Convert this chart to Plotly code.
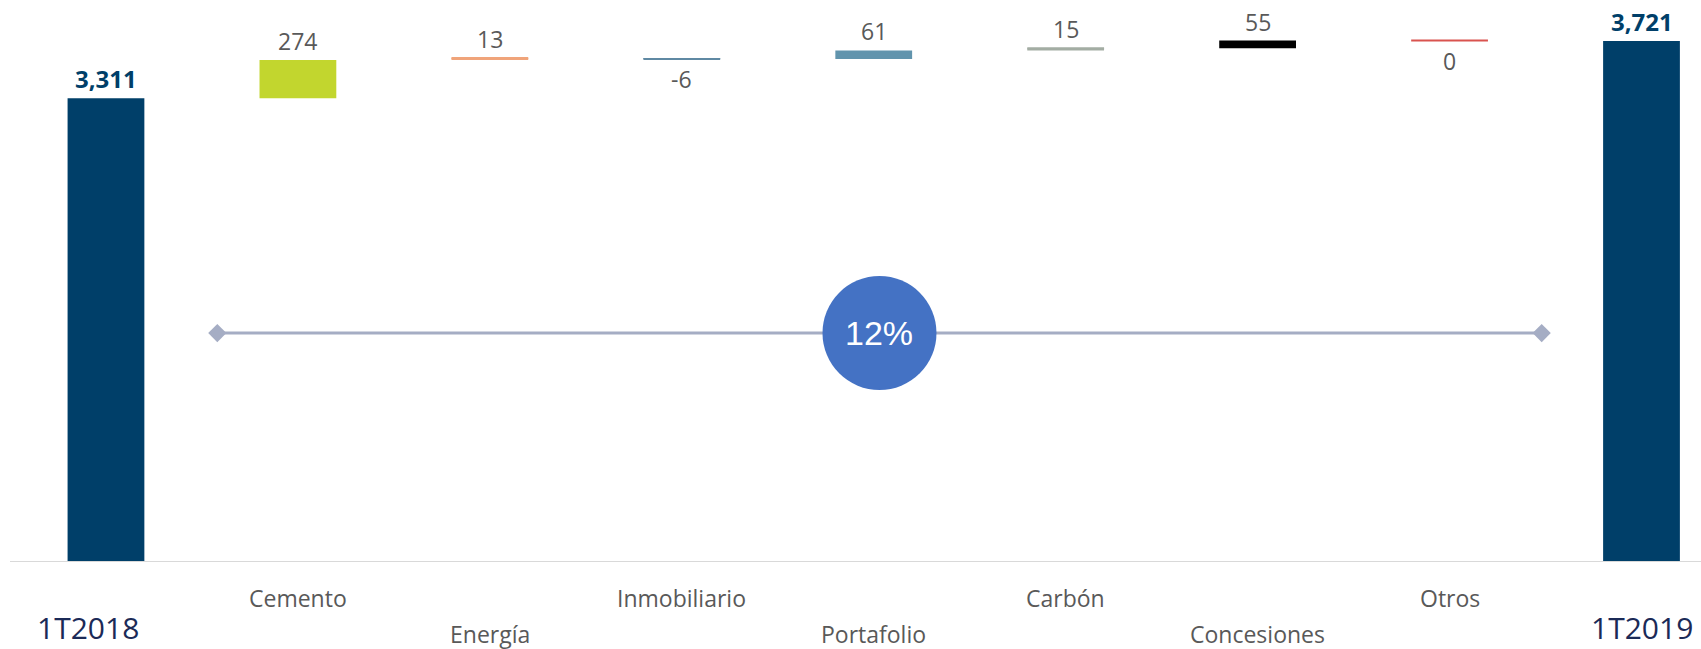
import plotly.graph_objects as go

# ---- data ----
start_label = "1T2018"
end_label = "1T2019"
start_value = 3311
end_value = 3721
categories = ["Cemento", "Energía", "Inmobiliario", "Portafolio", "Carbón", "Concesiones", "Otros"]
deltas = [274, 13, -6, 61, 15, 55, 0]
growth_label = "12%"

# ---- styles ----
navy = "#003f69"
delta_colors = ["#c2d62e", "#f0a47a", "#5f89a3", "#6194ad", "#a3ada3", "#000000", "#d9534f"]
gray_text = "#595959"
label_font = "Open Sans"
bar_w = 0.4
y_max = 4013

fig = go.Figure()

n = len(categories)
xs_total = [0, n + 1]

# total bars
fig.add_trace(go.Bar(x=xs_total, y=[start_value, end_value], width=bar_w,
                     marker=dict(color=navy, line=dict(width=0)), showlegend=False,
                     hoverinfo="skip"))

# delta bars
bases = []
cum = start_value
for d in deltas:
    bases.append(cum)
    cum += d
xs_delta = list(range(1, n + 1))
fig.add_trace(go.Bar(x=xs_delta, y=deltas, base=bases, width=bar_w,
                     marker=dict(color=delta_colors, line=dict(width=0)),
                     showlegend=False, hoverinfo="skip"))

# thin lines for tiny deltas so they remain visible
for i, (x, b, d, c) in enumerate(zip(xs_delta, bases, deltas, delta_colors)):
    if abs(d) < 20:
        lvl = b + d
        fig.add_trace(go.Scatter(x=[x - bar_w / 2, x + bar_w / 2], y=[lvl, lvl], mode="lines",
                                 line=dict(color=c, width=2), showlegend=False, hoverinfo="skip"))

annotations = []
# value labels for totals
for x, v in zip(xs_total, [start_value, end_value]):
    annotations.append(dict(x=x, y=v, xref="x", yref="y", text=f"<b>{v:,}</b>", showarrow=False,
                            yanchor="bottom", yshift=1,
                            font=dict(family=label_font, size=24, color=navy)))
# value labels for deltas
for x, b, d in zip(xs_delta, bases, deltas):
    if d > 0:
        annotations.append(dict(x=x, y=b + d, xref="x", yref="y", text=f"{d}", showarrow=False,
                                yanchor="bottom", yshift=1,
                                font=dict(family=label_font, size=23, color=gray_text)))
    else:
        annotations.append(dict(x=x, y=b + d, xref="x", yref="y", text=f"{d}", showarrow=False,
                                yanchor="top", yshift=-2,
                                font=dict(family=label_font, size=23, color=gray_text)))

# category labels (staggered)
for i, (x, c) in enumerate(zip(xs_delta, categories)):
    yshift = -36 if i % 2 == 0 else -72
    annotations.append(dict(x=x, y=0, xref="x", yref="paper", text=c, showarrow=False,
                            yanchor="middle", yshift=yshift,
                            font=dict(family=label_font, size=23, color=gray_text)))
# total labels
for x, lab, xsh in zip(xs_total, [start_label, end_label], [-18, 0]):
    annotations.append(dict(x=x, y=0, xref="x", yref="paper", text=lab, showarrow=False,
                            yanchor="middle", yshift=-65, xshift=xsh,
                            font=dict(family="Open Sans", size=30, color="#1b2a57")))

# growth connector
gx0, gx1 = 0.58, n + 0.48
gy = 1635
fig.add_trace(go.Scatter(x=[gx0, gx1], y=[gy, gy], mode="lines+markers",
                         line=dict(color="#a5adc4", width=3),
                         marker=dict(symbol="diamond", size=14, color="#a5adc4"),
                         showlegend=False, hoverinfo="skip"))
gxm = (gx0 + gx1) / 2
shapes = [dict(type="circle", xref="x", yref="y", xsizemode="pixel", ysizemode="pixel",
               xanchor=gxm, yanchor=gy, x0=-57, x1=57, y0=-57, y1=57,
               fillcolor="#4472c4", line=dict(width=0), layer="above"),
          dict(type="line", xref="paper", yref="y", x0=0, x1=1, y0=0, y1=0,
               line=dict(color="#d9d9d9", width=2))]
annotations.append(dict(x=gxm, y=gy, xref="x", yref="y", text=growth_label, showarrow=False,
                        font=dict(family="Liberation Sans", size=34, color="white")))

fig.update_layout(
    width=1701, height=649,
    margin=dict(l=10, r=0, t=0, b=87),
    paper_bgcolor="white", plot_bgcolor="white",
    barmode="overlay",
    xaxis=dict(range=[-0.5, 8.31], showticklabels=False, showgrid=False, zeroline=False,
               showline=False, ticks=""),
    yaxis=dict(range=[0, y_max], visible=False, showgrid=False, zeroline=False),
    annotations=annotations, shapes=shapes,
)

fig.write_html("out.html")
